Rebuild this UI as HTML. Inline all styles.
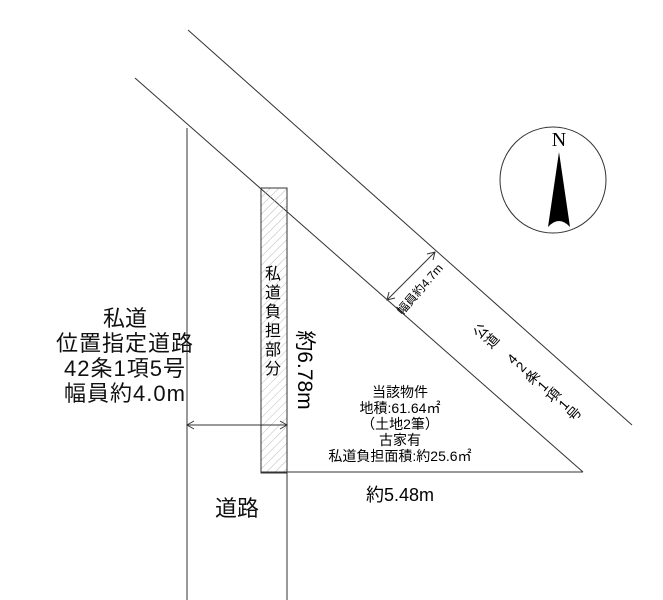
<!DOCTYPE html>
<html><head><meta charset="utf-8"><style>
body{margin:0;background:#fff;}
svg{display:block;font-family:"Liberation Sans","Noto Sans CJK JP",sans-serif;}
</style></head><body>
<svg width="663" height="600" viewBox="0 0 663 600" xmlns="http://www.w3.org/2000/svg">
<defs>
<pattern id="h" width="6" height="6" patternUnits="userSpaceOnUse" patternTransform="rotate(45)">
<line x1="0" y1="0" x2="0" y2="6" stroke="#bbb" stroke-width="1"/>
</pattern>
</defs>
<g stroke="#333" stroke-width="1" fill="none">
<line x1="188" y1="30" x2="632" y2="425"/>
<line x1="135" y1="78" x2="583" y2="472"/>
<line x1="187" y1="128" x2="187" y2="600"/>
<line x1="287" y1="210" x2="287" y2="600"/>
<rect x="261" y="188" width="26" height="285" fill="url(#h)"/>
<line x1="261" y1="472" x2="583" y2="472"/>
<line x1="187" y1="425" x2="287" y2="425"/>
<polyline points="194,421 187,425 194,429"/>
<polyline points="280,421 287,425 280,429"/>
<line x1="387" y1="300" x2="435" y2="252"/>
<polyline points="389,292 387,300 395,298"/>
<polyline points="433,260 435,252 427,254"/>
<circle cx="553" cy="180" r="53"/>
</g>
<path d="M559,152 L548,227 Q559,215 570,227 Z" fill="#000"/>
<text x="559" y="146" font-family="Liberation Serif,serif" font-size="20" text-anchor="middle">N</text>
<g font-size="22" text-anchor="middle" fill="#111">
<text x="125" y="326">私道</text>
<text x="125" y="351" letter-spacing="1">位置指定道路</text>
<text x="125" y="376" letter-spacing="1">42条1項5号</text>
<text x="125" y="401" letter-spacing="1">幅員約4.0m</text>
<text x="237" y="516">道路</text>
</g>
<text x="400" y="501" font-size="18" text-anchor="middle">約5.48m</text>
<g font-size="16" text-anchor="middle">
<text x="273" y="279">私</text><text x="273" y="298">道</text><text x="273" y="317">負</text>
<text x="273" y="336">担</text><text x="273" y="355">部</text><text x="273" y="374">分</text>
</g>
<text transform="translate(298,370) rotate(90)" font-size="21" text-anchor="middle">約6.78m</text>
<g font-size="14" text-anchor="middle">
<text x="400" y="397">当該物件</text>
<text x="400" y="413">地積:61.64㎡</text>
<text x="400" y="429">（土地2筆）</text>
<text x="400" y="445">古家有</text>
<text x="400" y="461">私道負担面積:約25.6㎡</text>
</g>
<text transform="translate(423,292) rotate(-49)" font-size="12" text-anchor="middle">幅員約4.7m</text>
<g transform="translate(527,372) rotate(41.5)" font-size="14" text-anchor="middle">
<g transform="translate(-62,0) rotate(-90)"><text x="0" y="5">公</text></g>
<g transform="translate(-47,0) rotate(-90)"><text x="0" y="5">道</text></g>
<g transform="translate(-20,0) rotate(-90)"><text x="0" y="5">4</text></g>
<g transform="translate(-8,0) rotate(-90)"><text x="0" y="5">2</text></g>
<g transform="translate(7,0) rotate(-90)"><text x="0" y="5">条</text></g>
<g transform="translate(21,0) rotate(-90)"><text x="0" y="5">1</text></g>
<g transform="translate(35,0) rotate(-90)"><text x="0" y="5">項</text></g>
<g transform="translate(49,0) rotate(-90)"><text x="0" y="5">1</text></g>
<g transform="translate(63,0) rotate(-90)"><text x="0" y="5">号</text></g>
</g>
</svg>
</body></html>
